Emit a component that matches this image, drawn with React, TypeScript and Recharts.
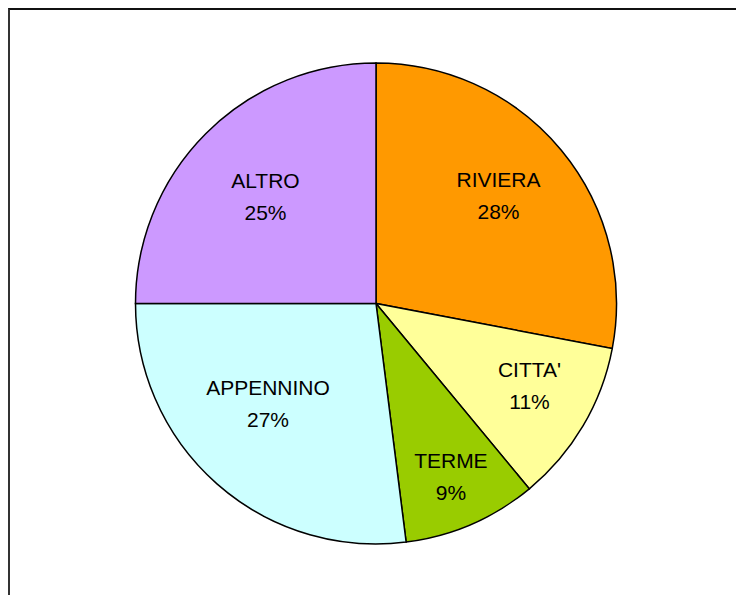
import React from "react";
import { PieChart, Pie, Cell } from "recharts";

const categories = ["RIVIERA", "CITTA'", "TERME", "APPENNINO", "ALTRO"];
const shares = [28, 11, 9, 27, 25];
const colors = ["#FF9900", "#FFFF99", "#99CC00", "#CCFFFF", "#CC99FF"];

const data = categories.map((name, i) => ({ name, value: shares[i] }));

// label placement per slice: distance (fraction of outer radius) and clockwise angle tweak
const labelRadiusFrac = [0.678, 0.723, 0.784, 0.613, 0.641];
const labelAngleShift = [-1.7, -2.6, 0, 5.7, -0.8];

const RADIAN = Math.PI / 180;

const renderLabel = (props: any) => {
  const { cx, cy, midAngle, outerRadius, index, name, value } = props;
  const r = outerRadius * labelRadiusFrac[index];
  const a = midAngle - labelAngleShift[index];
  const x = cx + r * Math.cos(-a * RADIAN);
  const y = cy + r * Math.sin(-a * RADIAN);
  return (
    <text
      x={x}
      y={y}
      textAnchor="middle"
      fill="#000"
      fontFamily="'Liberation Sans', Arial, sans-serif"
      fontSize={21}
    >
      <tspan x={x} dy={-8.5}>{name}</tspan>
      <tspan x={x} dy={32}>{`${value}%`}</tspan>
    </text>
  );
};

export default function App() {
  return (
    <div
      style={{
        position: "fixed",
        left: 8,
        top: 8,
        width: 760,
        height: 620,
        borderTop: "2px solid #111",
        borderLeft: "2px solid #333",
        background: "#fff",
      }}
    >
      <PieChart width={726} height={585} margin={{ top: 0, right: 0, bottom: 0, left: 0 }}>
        <Pie
          data={data}
          dataKey="value"
          nameKey="name"
          cx={366}
          cy={293.5}
          outerRadius={240.5}
          startAngle={90}
          endAngle={-270}
          stroke="#000"
          strokeWidth={1.5}
          label={renderLabel}
          labelLine={false}
          isAnimationActive={false}
        >
          {data.map((d, i) => (
            <Cell key={d.name} fill={colors[i]} />
          ))}
        </Pie>
      </PieChart>
    </div>
  );
}
